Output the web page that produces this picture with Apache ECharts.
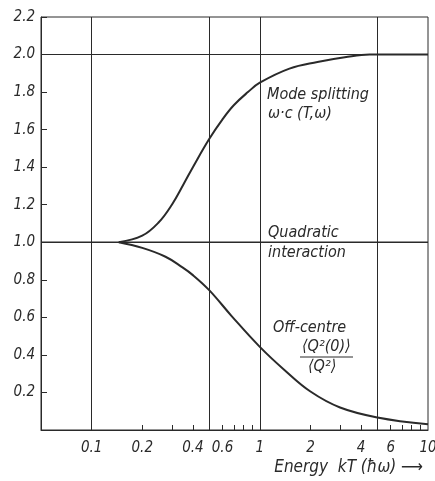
<!DOCTYPE html>
<html>
<head>
<meta charset="utf-8">
<script src="https://cdn.jsdelivr.net/npm/echarts@6/dist/echarts.min.js"></script>
<style>html,body{margin:0;padding:0;background:#fff}#c{width:435px;height:481px}</style>
</head>
<body>
<div id="c"></div>
<script>
// Energy kT (hbar omega) sample points
const modeX = [0.145, 0.2, 0.25, 0.3, 0.35, 0.4, 0.5, 0.6, 0.7, 0.85, 1.0, 1.5, 2.2, 3.2, 4.5, 10];
const modeY = [1.0, 1.035, 1.105, 1.20, 1.305, 1.40, 1.55, 1.655, 1.73, 1.80, 1.85, 1.925, 1.96, 1.985, 2.0, 2.0];
const offX = [0.145, 0.2, 0.275, 0.343, 0.4, 0.5, 0.68, 1.0, 1.4, 2.0, 3.0, 5.0, 10];
const offY = [1.0, 0.97, 0.923, 0.869, 0.825, 0.745, 0.607, 0.443, 0.32, 0.205, 0.12, 0.067, 0.03];
const quadX = [0.05, 10];
const quadY = [1.0, 1.0];
const xLabelValues = [0.1, 0.2, 0.4, 0.6, 1, 2, 4, 6, 10];
const xMinorTicks = [0.2, 0.3, 0.4, 0.6, 0.7, 0.8, 0.9, 2, 3, 4, 6, 7, 8, 9];
const xGridLines = [0.1, 0.5, 1, 5];
const yGridLines = [2.0];

const FONT = "'DejaVu Sans Condensed', 'DejaVu Sans', sans-serif";
const INK = '#2a2a2a';
const zip = (xs, ys) => xs.map((x, i) => [x, ys[i]]);

const chart = echarts.init(document.getElementById('c'), null, {renderer: 'canvas'});
const txt = (x, y, s, extra) => Object.assign({
  type: 'text', left: x, top: y,
  style: {text: s, font: 'italic 16px ' + FONT, fill: INK}
}, extra || {});

chart.setOption({
  animation: false,
  backgroundColor: '#fff',
  grid: {left: 41, right: 7, top: 17, bottom: 51, show: true, borderColor: INK, borderWidth: 1,
         containLabel: false, outerBoundsMode: 'none'},
  xAxis: {
    type: 'log', logBase: 10, min: 0.05, max: 10,
    axisLine: {show: true, lineStyle: {color: INK, width: 1}},
    axisTick: {show: true, inside: true, length: 5, customValues: xMinorTicks, lineStyle: {color: INK}},
    minorTick: {show: false},
    splitLine: {show: false},
    axisLabel: {show: true, customValues: xLabelValues, margin: 11,
      fontFamily: FONT, fontStyle: 'italic', fontSize: 15, color: INK,
      formatter: v => String(+(+v).toPrecision(3))}
  },
  yAxis: {
    type: 'value', min: 0, max: 2.2, interval: 0.2,
    axisLine: {show: true, lineStyle: {color: INK, width: 1}},
    axisTick: {show: true, inside: true, length: 6, lineStyle: {color: INK}},
    splitLine: {show: false},
    axisLabel: {margin: 6, fontFamily: FONT, fontStyle: 'italic', fontSize: 15, color: INK,
      formatter: v => v === 0 ? '' : v.toFixed(1)}
  },
  series: [
    {type: 'line', data: zip(quadX, quadY), symbol: 'none', silent: true,
     lineStyle: {color: INK, width: 1.3},
     markLine: {silent: true, symbol: 'none', label: {show: false},
       lineStyle: {color: INK, width: 1, type: 'solid'},
       data: xGridLines.map(v => ({xAxis: v})).concat(yGridLines.map(v => ({yAxis: v})))}},
    {type: 'line', data: zip(modeX, modeY), symbol: 'none', smooth: 0.4, silent: true,
     lineStyle: {color: INK, width: 2}},
    {type: 'line', data: zip(offX, offY), symbol: 'none', smooth: 0.4, silent: true,
     lineStyle: {color: INK, width: 2}}
  ],
  graphic: [
    txt(267, 87, 'Mode splitting'),
    txt(268, 106, 'ω·c (T,ω)'),
    txt(268, 225, 'Quadratic'),
    txt(268, 245, 'interaction'),
    txt(273, 320, 'Off-centre'),
    txt(302, 339, '⟨Q²(0)⟩'),
    {type: 'line', shape: {x1: 300, y1: 357, x2: 353, y2: 357}, style: {stroke: INK, lineWidth: 1}},
    txt(308, 359, '⟨Q²⟩'),
    {type: 'text', right: 12, top: 459,
     style: {text: 'Energy  kT (ħω) ⟶', font: 'italic 17px ' + FONT, fill: INK}}
  ]
});
</script>
</body>
</html>
